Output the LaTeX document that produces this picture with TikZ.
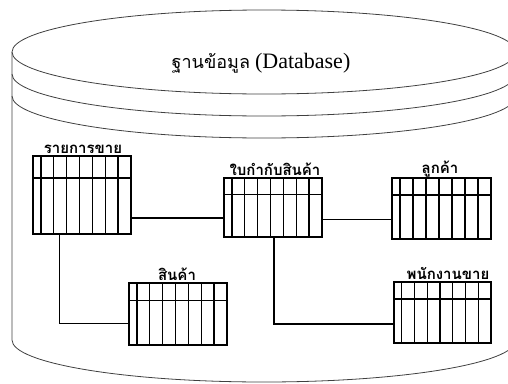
\documentclass[tikz,border=0pt]{standalone}
\usepackage{fontspec}
\setmainfont{Liberation Serif}
\newfontfamily\thai[Script=Thai]{Loma}
\usetikzlibrary{calc,positioning}
\tikzset{
  cyl/.style={draw=black!75, line width=0.8pt},
  dbtab/.style n args={2}{draw, line width=1.4pt, inner sep=0pt, minimum width=#1, minimum height=#2,
    path picture={
      \coordinate (nw) at (path picture bounding box.north west);
      \coordinate (ne) at (path picture bounding box.north east);
      \coordinate (sw) at (path picture bounding box.south west);
      \coordinate (se) at (path picture bounding box.south east);
      \draw[line width=1.4pt] ($(nw)!0.28!(sw)$) -- ($(ne)!0.28!(se)$);
      \foreach \k in {0,...,6}{
        \pgfmathsetmacro{\f}{0.08+\k*0.92/7}
        \draw[line width=1.4pt] ($(nw)!\f!(ne)$) -- ($(sw)!\f!(se)$);
      }
    }},
  lab/.style={font=\thai\bfseries\fontsize{15}{17}\selectfont, inner sep=1pt, anchor=south},
  conn/.style={draw, line width=#1},
}
\begin{document}
\begin{tikzpicture}[x=1pt,y=-1pt]
\useasboundingbox (0,0) rectangle (508,383);
\clip (0,0) rectangle (508,383);
% cylinder
\draw[cyl] (264,52) ellipse [x radius=252, y radius=42];
\draw[cyl] (12,74) arc[start angle=180, end angle=360, x radius=252, y radius=-42];
\draw[cyl] (12,96) arc[start angle=180, end angle=360, x radius=252, y radius=-42];
\draw[cyl] (12,52) -- (12,340) arc[start angle=180, end angle=360, x radius=252, y radius=-42] -- (516,52);
\node (title) at (261,63) {{\thai\fontsize{18}{20}\selectfont ฐานข้อมูล}\hspace{5pt}{\fontsize{22}{26}\selectfont(Database)}};
% tables
\node[dbtab={98pt}{78pt}] (T1) at (82,195) {};
\node[dbtab={98pt}{59pt}] (T2) at (273,207.5) {};
\node[dbtab={99pt}{61pt}] (T3) at (441.5,208.5) {};
\node[dbtab={98pt}{62pt}] (T4) at (178,314) {};
\node[dbtab={97pt}{61pt}] (T5) at (442.5,312.5) {};
\node[lab] (L1) at (83,155) {รายการขาย};
\node[lab] (L2) at (275,177) {ใบกำกับสินค้า};
\node[lab] (L3) at (440,178) {ลูกค้า};
\node[lab] (L4) at (177,282) {สินค้า};
\node[lab] (L5) at (448,281) {พนักงานขาย};
% connectors
\coordinate (j1) at (180,218);
\coordinate (j2) at (360,219);
\coordinate (j3) at (59,323);
\coordinate (j4) at (274,324);
\draw[conn=1.3pt] (T1.east |- j1) -- (T2.west |- j1);
\draw[conn=0.8pt] (T2.east |- j2) -- (T3.west |- j2);
\draw[conn=0.7pt] (T1.south -| j3) |- (T4.west |- j3);
\draw[conn=1.1pt] (T2.south -| j4) |- (T5.west |- j4);
\end{tikzpicture}
\end{document}
